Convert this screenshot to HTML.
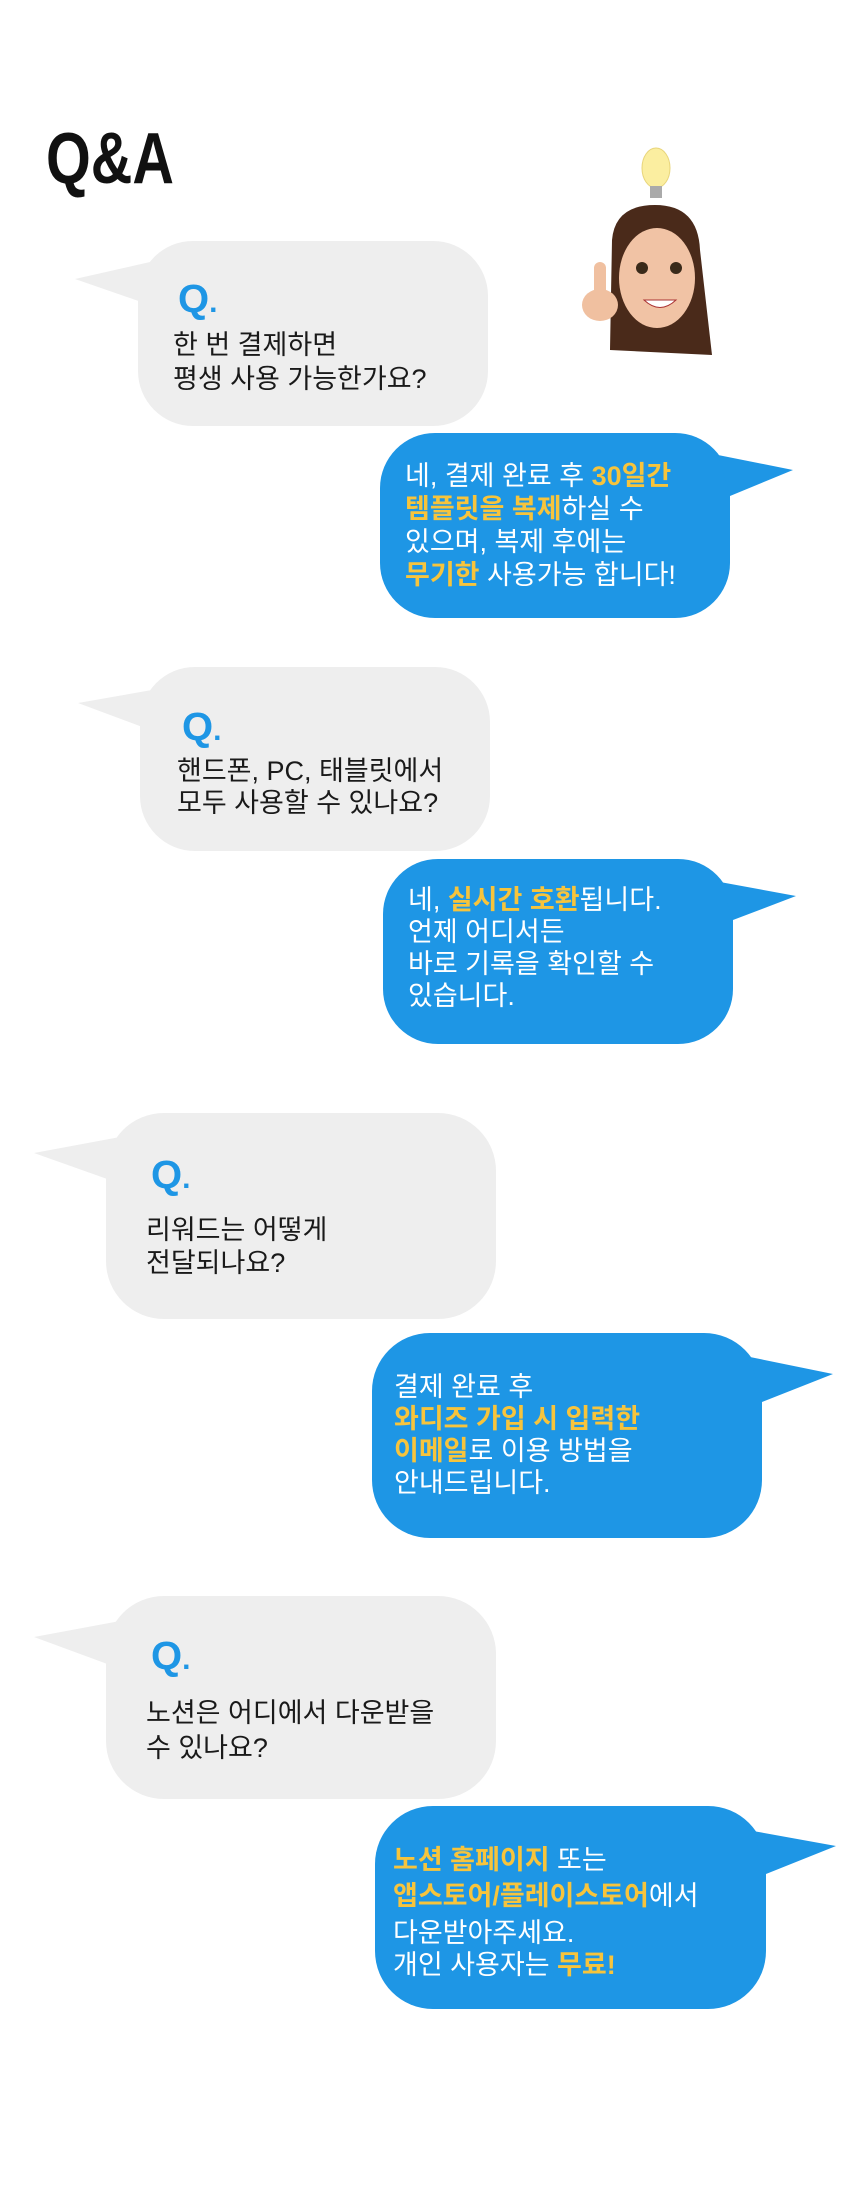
<!DOCTYPE html>
<html><head><meta charset="utf-8"><style>
html,body{margin:0;padding:0;background:#fff;}
svg{display:block}
text{font-family:"Liberation Sans","Noto Sans CJK KR",sans-serif;}
.t{font-size:27px;}
.g{fill:#1a1a1a;}
.w{fill:#fff;}
.y{fill:#f7c43c;font-weight:bold;}
.q{font-size:40px;font-weight:bold;fill:#1e96e5;}
</style></head><body>
<svg width="860" height="2200" viewBox="0 0 860 2200" xmlns="http://www.w3.org/2000/svg">
<rect width="860" height="2200" fill="#fff"/>
<text x="46" y="183" font-size="72" font-weight="bold" fill="#111" textLength="128" lengthAdjust="spacingAndGlyphs">Q&amp;A</text>

<!-- avatar -->
<ellipse cx="656" cy="168" rx="14" ry="20" fill="#fbeea0" stroke="#e8d57a"/>
<rect x="650" y="186" width="12" height="12" fill="#aaa"/>
<path d="M612 240 Q615 205 655 205 Q698 205 700 250 L712 355 L610 350 Z" fill="#4a2a1a"/>
<ellipse cx="657" cy="278" rx="38" ry="50" fill="#f1c3a5"/>
<circle cx="642" cy="268" r="6" fill="#3a2a1a"/>
<circle cx="676" cy="268" r="6" fill="#3a2a1a"/>
<path d="M644 300 Q660 315 676 300 Z" fill="#fff" stroke="#a33"/>
<rect x="594" y="262" width="12" height="38" rx="6" fill="#f0c0a0"/>
<ellipse cx="600" cy="305" rx="18" ry="16" fill="#f0c0a0"/>

<!-- Q1 -->
<rect x="138" y="241" width="350" height="185" rx="55" fill="#eeeeee"/>
<polygon points="150,262 75,279 150,305" fill="#eeeeee"/>
<text x="178" y="312" class="q">Q<tspan font-size="30">.</tspan></text>
<text x="173" y="354" class="t g">한 번 결제하면</text>
<text x="173" y="388" class="t g">평생 사용 가능한가요?</text>

<rect x="380" y="433" width="350" height="185" rx="55" fill="#1e96e5"/>
<polygon points="718,455 793,470 730,496" fill="#1e96e5"/>
<text x="405" y="485" class="t w">네, 결제 완료 후 <tspan class="y">30일간</tspan></text>
<text x="405" y="518" class="t w"><tspan class="y">템플릿을 복제</tspan>하실 수</text>
<text x="405" y="551" class="t w">있으며, 복제 후에는</text>
<text x="405" y="584" class="t w"><tspan class="y">무기한</tspan> 사용가능 합니다!</text>

<!-- Q2 -->
<rect x="140" y="667" width="350" height="184" rx="55" fill="#eeeeee"/>
<polygon points="152,690 78,703 145,728" fill="#eeeeee"/>
<text x="182" y="740" class="q">Q<tspan font-size="30">.</tspan></text>
<text x="177" y="780" class="t g">핸드폰, PC, 태블릿에서</text>
<text x="177" y="812" class="t g">모두 사용할 수 있나요?</text>

<rect x="383" y="859" width="350" height="185" rx="55" fill="#1e96e5"/>
<polygon points="720,882 796,896 733,920" fill="#1e96e5"/>
<text x="408" y="909" class="t w">네, <tspan class="y">실시간 호환</tspan>됩니다.</text>
<text x="408" y="941" class="t w">언제 어디서든</text>
<text x="408" y="973" class="t w">바로 기록을 확인할 수</text>
<text x="408" y="1005" class="t w">있습니다.</text>

<!-- Q3 -->
<rect x="106" y="1113" width="390" height="206" rx="58" fill="#eeeeee"/>
<polygon points="120,1137 34,1153 110,1180" fill="#eeeeee"/>
<text x="151" y="1188" class="q">Q<tspan font-size="30">.</tspan></text>
<text x="146" y="1239" class="t g">리워드는 어떻게</text>
<text x="146" y="1272" class="t g">전달되나요?</text>

<rect x="372" y="1333" width="390" height="205" rx="58" fill="#1e96e5"/>
<polygon points="750,1357 833,1374 762,1402" fill="#1e96e5"/>
<text x="394" y="1396" class="t w">결제 완료 후</text>
<text x="394" y="1428" class="t w"><tspan class="y">와디즈 가입 시 입력한</tspan></text>
<text x="394" y="1460" class="t w"><tspan class="y">이메일</tspan>로 이용 방법을</text>
<text x="394" y="1492" class="t w">안내드립니다.</text>

<!-- Q4 -->
<rect x="106" y="1596" width="390" height="203" rx="58" fill="#eeeeee"/>
<polygon points="120,1621 34,1637 110,1665" fill="#eeeeee"/>
<text x="151" y="1669" class="q">Q<tspan font-size="30">.</tspan></text>
<text x="146" y="1722" class="t g">노션은 어디에서 다운받을</text>
<text x="146" y="1757" class="t g">수 있나요?</text>

<rect x="375" y="1806" width="391" height="203" rx="58" fill="#1e96e5"/>
<polygon points="753,1831 836,1846 766,1874" fill="#1e96e5"/>
<text x="393" y="1869" class="t w"><tspan class="y">노션 홈페이지</tspan> 또는</text>
<text x="393" y="1905" class="t w"><tspan class="y">앱스토어/플레이스토어</tspan>에서</text>
<text x="393" y="1942" class="t w">다운받아주세요.</text>
<text x="393" y="1974" class="t w">개인 사용자는 <tspan class="y">무료!</tspan></text>
</svg>
</body></html>
